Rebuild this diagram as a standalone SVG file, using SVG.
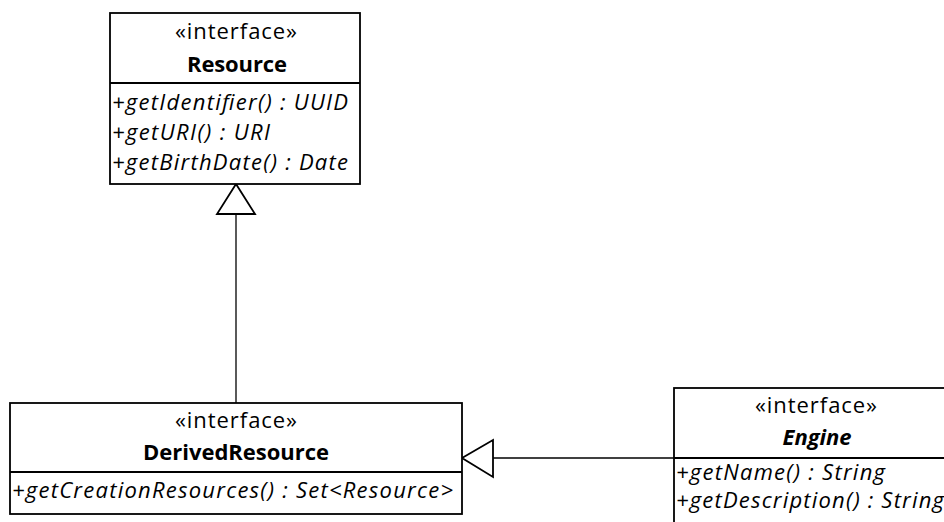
<svg xmlns="http://www.w3.org/2000/svg" width="944" height="522" viewBox="0 0 944 522">
  <style>
    .box { fill: #ffffff; stroke: #000000; stroke-width: 1.8; }
    .div { stroke: #000000; stroke-width: 1.8; }
    .edge { fill: none; stroke: #000000; stroke-width: 1.3; }
    .head { fill: #ffffff; stroke: #000000; stroke-width: 1.8; stroke-linejoin: miter; }
    text { font-family: "Open Sans", Lato, sans-serif; font-size: 22px; fill: #000000; }
    .st { text-anchor: middle; }
    .nm { text-anchor: middle; font-weight: bold; }
    .abs { font-style: italic; }
    .op { font-style: italic; }
  </style>
  <rect width="944" height="522" fill="#ffffff"/>

  <!-- generalization connectors -->
  <g id="connectors">
    <line class="edge" x1="236" y1="214" x2="236" y2="403"/>
    <polygon class="head" points="236,184 217,214 255,214"/>
    <line class="edge" x1="493" y1="458" x2="674" y2="458"/>
    <polygon class="head" points="462,458 493,440 493,477"/>
  </g>

  <g id="Resource">
    <rect class="box" x="110" y="13" width="250" height="171"/>
    <line class="div" x1="110" y1="83" x2="360" y2="83"/>
    <text class="st" x="236" y="39" textLength="122" lengthAdjust="spacing">«interface»</text>
    <text class="nm" x="237" y="72" textLength="100" lengthAdjust="spacing">Resource</text>
    <text class="op" x="112" y="110" textLength="236" lengthAdjust="spacing">+getIdentifier() : UUID</text>
    <text class="op" x="112" y="140" textLength="158" lengthAdjust="spacing">+getURI() : URI</text>
    <text class="op" x="112" y="170" textLength="236" lengthAdjust="spacing">+getBirthDate() : Date</text>
  </g>

  <g id="DerivedResource">
    <rect class="box" x="10" y="403" width="452" height="111"/>
    <line class="div" x1="10" y1="472" x2="462" y2="472"/>
    <text class="st" x="236" y="428" textLength="122" lengthAdjust="spacing">«interface»</text>
    <text class="nm" x="236" y="460" textLength="186" lengthAdjust="spacing">DerivedResource</text>
    <text class="op" x="12" y="498" textLength="441" lengthAdjust="spacing">+getCreationResources() : Set&lt;Resource&gt;</text>
  </g>

  <g id="Engine">
    <rect class="box" x="674" y="388" width="286" height="150"/>
    <line class="div" x1="674" y1="458" x2="960" y2="458"/>
    <text class="st" x="816" y="413" textLength="122" lengthAdjust="spacing">«interface»</text>
    <text class="nm abs" x="817" y="445" textLength="69" lengthAdjust="spacing">Engine</text>
    <text class="op" x="676" y="480" textLength="209" lengthAdjust="spacing">+getName() : String</text>
    <text class="op" x="676" y="508" textLength="268" lengthAdjust="spacing">+getDescription() : String</text>
  </g>
</svg>
